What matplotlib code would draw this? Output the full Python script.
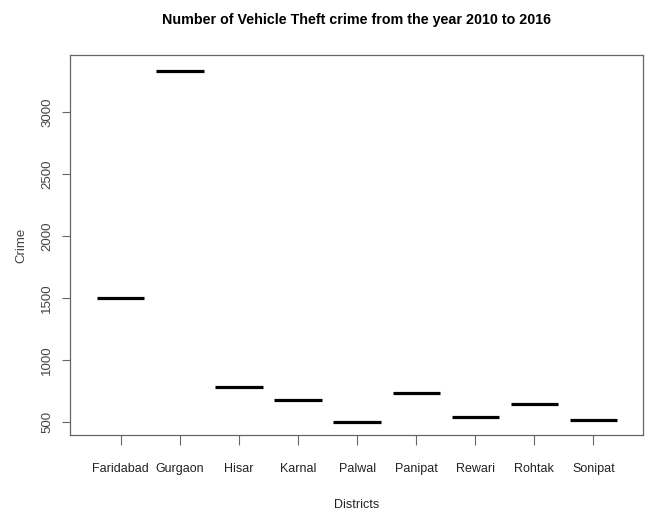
import numpy as np
import matplotlib
matplotlib.use("Agg")
import matplotlib.pyplot as plt

# vehicle theft crime per district, 2010-2016
districts = ["Faridabad", "Gurgaon", "Hisar", "Karnal", "Palwal",
             "Panipat", "Rewari", "Rohtak", "Sonipat"]
crime = [1500, 3330, 783, 676, 500, 735, 540, 647, 516]
yticks = [500, 1000, 1500, 2000, 2500, 3000]

plain = ["Liberation Sans", "DejaVu Sans"]

fig = plt.figure(figsize=(6.47, 5.14), dpi=100)
ax = fig.add_axes([70/647, 1-435/514, 573/647, 380/514])

x = np.arange(1, len(districts)+1)
for xi, v in zip(x, crime):
    ax.plot([xi-0.4, xi+0.4], [v, v], color="black", lw=2.3, solid_capstyle="butt")

ax.set_xlim(0.14, 9.84)
ax.set_ylim(395, 3460)

for s in ax.spines.values():
    s.set_color("#666666")
    s.set_linewidth(0.9)

ax.set_xticks(x)
ax.set_xticklabels(districts, family=plain, fontsize=9, color="#222222")
ax.set_yticks(yticks)
ax.set_yticklabels([str(t) for t in yticks], family=plain, fontsize=9.5,
                   rotation=90, va="center", color="#444444")
ax.tick_params(axis="x", length=7, color="#666666", pad=13)
ax.tick_params(axis="y", length=6, color="#666666", pad=6)

ax.set_xlabel("Districts", family=plain, fontsize=9, color="#222222")
ax.xaxis.set_label_coords(0.5, -0.168)
ax.set_ylabel("Crime", family=plain, fontsize=9.5, color="#444444")
ax.yaxis.set_label_coords(-0.075, 0.5)

fig.text(357/647, 1-20/514, "Number of Vehicle Theft crime from the year 2010 to 2016",
         family=plain, fontsize=10.3, fontweight="bold", ha="center", va="center")

fig.savefig("out.png", dpi=100)
